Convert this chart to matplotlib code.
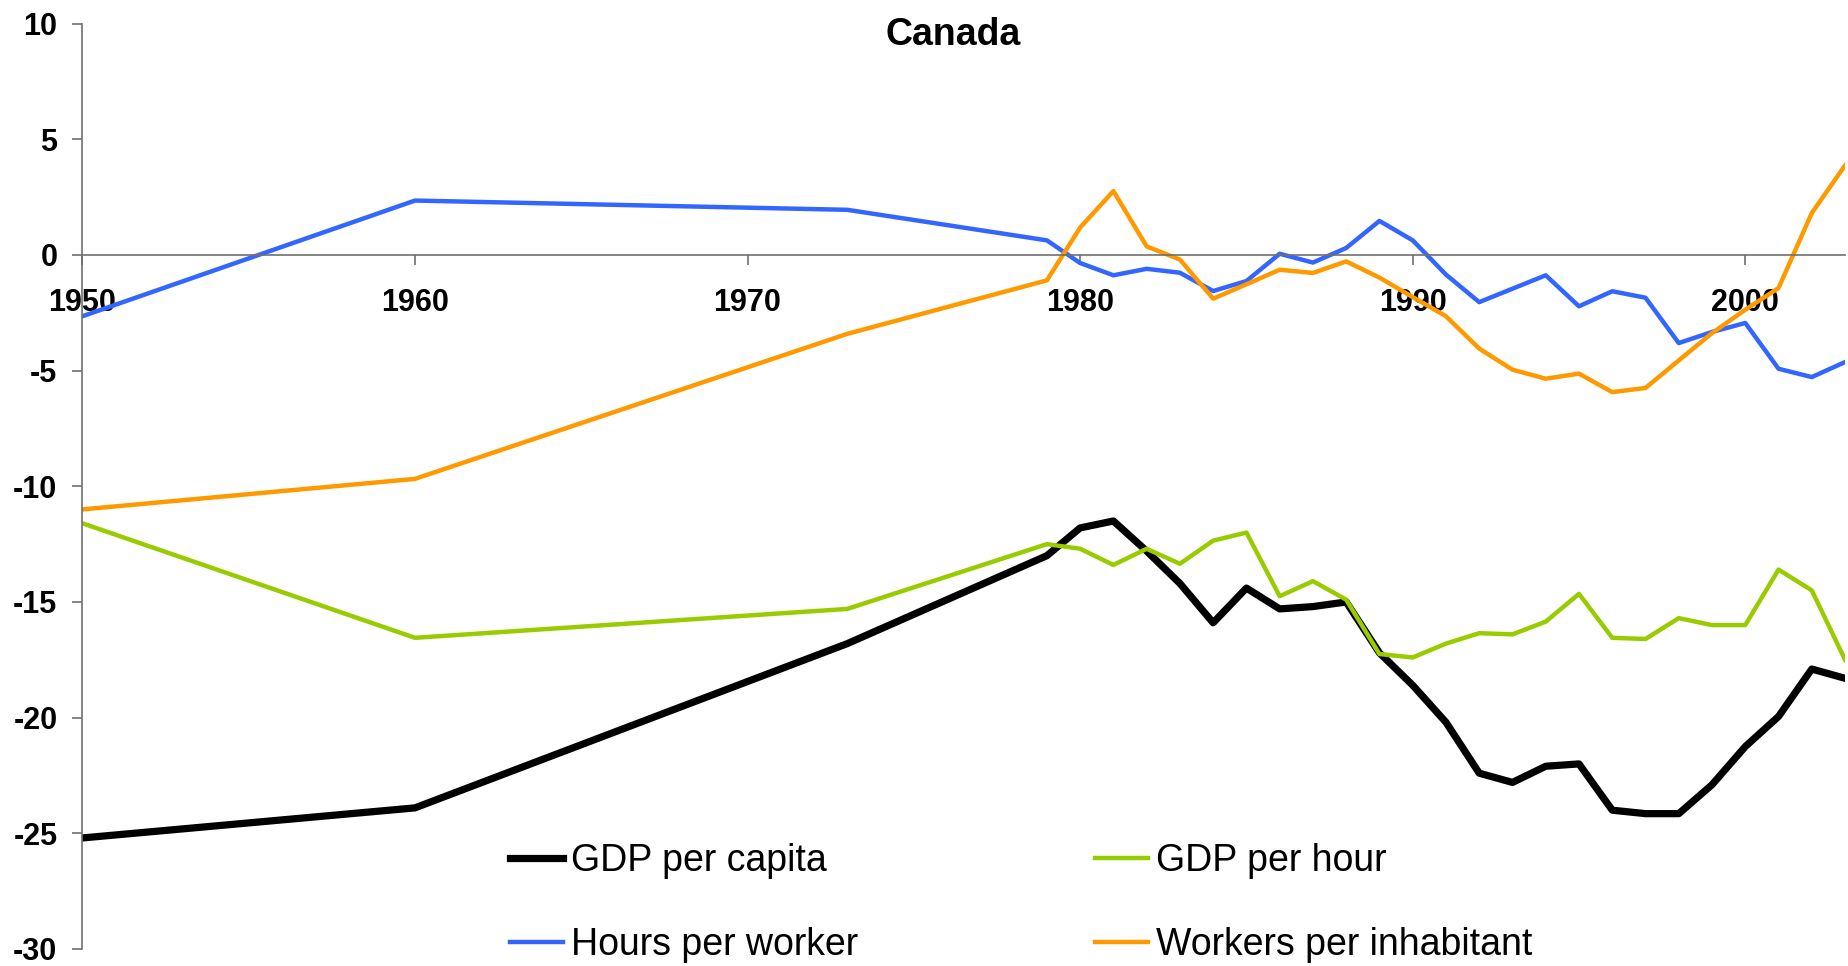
import numpy as np
import matplotlib
matplotlib.use("Agg")
import matplotlib.pyplot as plt

plt.rcParams['font.family'] = ['Liberation Sans', 'DejaVu Sans']
plt.rcParams['axes.unicode_minus'] = False

# data (percent gap)
years = [1950, 1960, 1973, 1979, 1980, 1981, 1982, 1983, 1984, 1985, 1986,
         1987, 1988, 1989, 1990, 1991, 1992, 1993, 1994, 1995, 1996, 1997,
         1998, 1999, 2000, 2001, 2002, 2003]

gdp_capita = [-25.2, -23.9, -16.8, -13.0, -11.8, -11.5, -12.8, -14.2, -15.9,
              -14.4, -15.3, -15.2, -15.0, -17.2, -18.6, -20.2, -22.4, -22.8,
              -22.1, -22.0, -24.0, -24.15, -24.15, -22.9, -21.25, -19.95,
              -17.9, -18.3]

gdp_hour = [-11.6, -16.55, -15.3, -12.5, -12.7, -13.4, -12.7, -13.35, -12.35,
            -12.0, -14.75, -14.1, -14.9, -17.25, -17.4, -16.8, -16.35, -16.4,
            -15.85, -14.65, -16.55, -16.6, -15.7, -16.0, -16.0, -13.6, -14.5,
            -17.5]

hours_worker = [-2.65, 2.35, 1.95, 0.63, -0.35, -0.88, -0.6, -0.77, -1.56,
                -1.13, 0.05, -0.33, 0.3, 1.47, 0.63, -0.85, -2.04, -1.46,
                -0.88, -2.22, -1.57, -1.85, -3.81, -3.33, -2.94, -4.92, -5.28,
                -4.63]

workers_inhab = [-11.0, -9.68, -3.41, -1.1, 1.18, 2.76, 0.37, -0.2, -1.89,
                 -1.27, -0.64, -0.78, -0.28, -0.98, -1.82, -2.65, -4.05, -4.96,
                 -5.35, -5.13, -5.93, -5.75, -4.56, -3.38, -2.37, -1.43, 1.81,
                 3.87]

labels = ['GDP per capita', 'GDP per hour', 'Hours per worker',
          'Workers per inhabitant']

fig = plt.figure(figsize=(18.48, 9.66), dpi=100)
ax = fig.add_axes([0.0446, 0.0176, 0.9538, 0.958])

l1, = ax.plot(years, gdp_capita, color='black', lw=5.2)
l2, = ax.plot(years, gdp_hour, color='#99CC00', lw=3.2)
l3, = ax.plot(years, hours_worker, color='#3366FF', lw=3.2)
l4, = ax.plot(years, workers_inhab, color='#FF9900', lw=3.2)

ax.set_xlim(1950, 2003)
ax.set_ylim(-30, 10)
ax.set_xticks(range(1950, 2001, 10))
ax.set_yticks(range(-30, 11, 5))

for s in ['top', 'right']:
    ax.spines[s].set_visible(False)
ax.spines['bottom'].set_position(('data', 0))
ax.spines['bottom'].set_color('#707070')
ax.spines['left'].set_color('#707070')
ax.spines['bottom'].set_linewidth(1.2)
ax.spines['left'].set_linewidth(1.2)

ax.tick_params(axis='x', direction='out', length=7, width=1.2, color='#707070',
               pad=17, labelsize=22)
ax.tick_params(axis='y', direction='out', length=7, width=1.2, color='#707070',
               pad=11, labelsize=22)
for t in ax.get_xticklabels() + ax.get_yticklabels():
    t.set_fontweight('bold')

fig.text(953 / 1848, 1 - 45 / 966, 'Canada', ha='center', va='baseline',
         fontsize=27, fontweight='bold')

# legend in two separate columns so each column starts where it should
leg_kw = dict(loc='center left', frameon=False, fontsize=27,
              handlelength=1.4, handletextpad=0.22, labelspacing=1.3,
              borderpad=0, borderaxespad=0)
fig.legend([l1, l3], [labels[0], labels[2]],
           bbox_to_anchor=(510 / 1848, 1 - 903 / 966), **leg_kw)
fig.legend([l2, l4], [labels[1], labels[3]],
           bbox_to_anchor=(1095 / 1848, 1 - 903 / 966), **leg_kw)

fig.savefig('out.png', dpi=100)
